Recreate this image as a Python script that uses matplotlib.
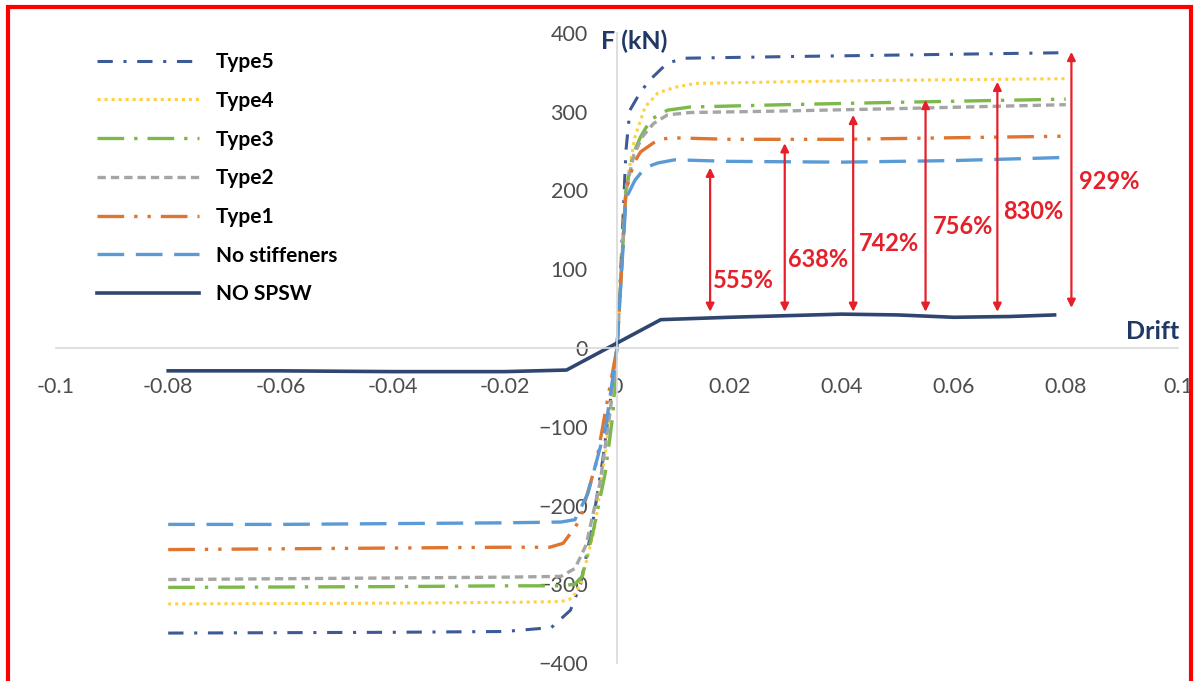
import matplotlib.pyplot as plt

plt.rcParams['font.family'] = ['Lato', 'DejaVu Sans']

# positive branch (drift, force)
t5_x = [0, 0.0008, 0.0016, 0.0023, 0.0041, 0.0058, 0.009, 0.0122, 0.03, 0.05, 0.08]
t5_y = [0, 120, 251, 302, 324, 340, 362, 368, 370, 372, 375]
t4_x = [0, 0.0015, 0.0032, 0.005, 0.0073, 0.0103, 0.014, 0.03, 0.05, 0.08]
t4_y = [0, 200, 268, 306, 324, 331, 336, 338, 340, 342]
t3_x = [0, 0.0016, 0.0028, 0.0042, 0.006, 0.009, 0.013, 0.03, 0.05, 0.08]
t3_y = [0, 200, 245, 268, 290, 302, 306, 309, 312, 316]
t2_x = [0, 0.0016, 0.003, 0.0045, 0.0065, 0.009, 0.013, 0.03, 0.05, 0.08]
t2_y = [0, 200, 245, 268, 285, 296, 299, 301, 304, 309]
t1_x = [0, 0.0016, 0.003, 0.0042, 0.0072, 0.0095, 0.02, 0.04, 0.06, 0.08]
t1_y = [0, 200, 235, 249, 264, 267, 265, 265, 267, 269]
ns_x = [0, 0.0016, 0.0032, 0.005, 0.0073, 0.0103, 0.02, 0.04, 0.06, 0.08]
ns_y = [0, 190, 213, 229, 235, 239, 237, 236, 238, 242]

# negative branch
t5_xn = [-0.08, -0.04, -0.02, -0.0117, -0.0083, -0.0065, -0.0045, -0.0025, 0]
t5_yn = [-362, -361, -360, -355, -333, -300, -230, -140, 0]
t4_xn = [-0.08, -0.04, -0.02, -0.01, -0.008, -0.0065, -0.004, -0.002, 0]
t4_yn = [-325, -324, -323, -322, -318, -300, -230, -130, 0]
t3_xn = [-0.08, -0.04, -0.02, -0.01, -0.0075, -0.0062, -0.0042, -0.0021, -0.0007, 0]
t3_yn = [-304, -303, -302, -302, -300, -290, -231, -159, -83, 0]
t2_xn = [-0.08, -0.04, -0.02, -0.01, -0.0075, -0.0055, -0.003, -0.0012, 0]
t2_yn = [-294, -292, -291, -290, -280, -250, -170, -80, 0]
t1_xn = [-0.08, -0.06, -0.04, -0.02, -0.012, -0.0096, -0.0074, -0.0065, -0.0037, -0.0016, 0]
t1_yn = [-256, -255, -254, -253, -253, -248, -227, -215, -146, -62, 0]
ns_xn = [-0.08, -0.06, -0.04, -0.02, -0.01, -0.0075, -0.0052, -0.002, 0]
ns_yn = [-224, -224, -223, -222, -221, -218, -185, -100, 0]

# NO SPSW (full loop)
sp_x = [-0.08, -0.06, -0.04, -0.02, -0.009, 0.0078, 0.02, 0.03, 0.04, 0.05, 0.06, 0.07, 0.078]
sp_y = [-29, -29, -30, -30, -28, 36, 39, 41, 43, 42, 39, 40, 42]

# increase arrows: drift, bottom, top, label
arr_x = [0.0166, 0.0299, 0.0421, 0.055, 0.0678, 0.081]
arr_lo = [46, 46, 46, 46, 46, 51]
arr_hi = [229, 260, 296, 315, 338, 376]
arr_txt = ['555%', '638%', '742%', '756%', '830%', '929%']
txt_x = [0.0226, 0.0359, 0.0485, 0.0616, 0.0742, 0.0878]
txt_y = [86, 112, 133, 154, 173, 211]

xticks = [-0.1, -0.08, -0.06, -0.04, -0.02, 0, 0.02, 0.04, 0.06, 0.08, 0.1]
xlabels = ['-0.1', '-0.08', '-0.06', '-0.04', '-0.02', '0', '0.02', '0.04', '0.06', '0.08', '0.1']
yticks = [-400, -300, -200, -100, 0, 100, 200, 300, 400]

fig = plt.figure(figsize=(11.95, 6.81), dpi=100)
ax = fig.add_axes([56 / 1195, 18 / 681, 1122 / 1195, 630 / 681])

series = [
    ('Type5', t5_x, t5_y, t5_xn, t5_yn, '#3C5A96', (0, (5, 3.5, 1, 3.5)), 2.2),
    ('Type4', t4_x, t4_y, t4_xn, t4_yn, '#FFD040', (0, (1, 1.3)), 2.2),
    ('Type3', t3_x, t3_y, t3_xn, t3_yn, '#7DB84A', (0, (8, 3, 1, 3)), 2.4),
    ('Type2', t2_x, t2_y, t2_xn, t2_yn, '#A5A5A5', (0, (2.5, 1.5)), 2.4),
    ('Type1', t1_x, t1_y, t1_xn, t1_yn, '#E07530', (0, (8, 3, 1, 3, 1, 3)), 2.4),
    ('No stiffeners', ns_x, ns_y, ns_xn, ns_yn, '#5B9BD5', (0, (8, 3.5)), 2.4),
]

for name, xp, yp, xn, yn, c, ls, lw in series:
    ax.plot(xp, yp, color=c, ls=ls, lw=lw, label=name)
    ax.plot(xn, yn, color=c, ls=ls, lw=lw)
ax.plot(sp_x, sp_y, color='#2E4670', lw=2.6, label='NO SPSW')

for x, lo, hi in zip(arr_x, arr_lo, arr_hi):
    ax.annotate('', xy=(x, hi), xytext=(x, lo),
                arrowprops=dict(arrowstyle='<|-|>', color='#E5202A', lw=1.6,
                                mutation_scale=12, shrinkA=0, shrinkB=0))
for x, y, s in zip(txt_x, txt_y, arr_txt):
    ax.text(x, y, s, color='#E5202A', fontsize=17, fontweight='bold', ha='center', va='center')

ax.set_xlim(-0.1, 0.1)
ax.set_ylim(-400, 400)
ax.spines['left'].set_position(('data', 0))
ax.spines['bottom'].set_position(('data', 0))
ax.spines['right'].set_visible(False)
ax.spines['top'].set_visible(False)
for s in ['left', 'bottom']:
    ax.spines[s].set_color('#D9D9D9')
    ax.spines[s].set_linewidth(1.2)
ax.set_xticks(xticks)
ax.set_xticklabels(xlabels)
ax.set_yticks(yticks)
ax.tick_params(length=0, pad=21, labelsize=15.5, labelcolor='#4D4D4D')

ax.text(-0.0028, 390, 'F (kN)', color='#1F3864', fontsize=18, fontweight='bold', va='center')
ax.text(0.0955, 21, 'Drift', color='#1F3864', fontsize=18, fontweight='bold', ha='center', va='center')

ax.legend(loc='upper left', bbox_to_anchor=(97 / 1195, 1 - 52 / 681), bbox_transform=fig.transFigure,
          frameon=False, handlelength=4.9, handletextpad=0.8, labelspacing=0.9, borderpad=0,
          borderaxespad=0, prop={'weight': 'bold', 'size': 15})

# red frame around the figure
fig.add_artist(plt.Rectangle((8 / 1195, -0.05), 1183 / 1195, 1 - 7 / 681 + 0.05,
                             transform=fig.transFigure, fill=False, edgecolor='#FF0000', lw=3))

fig.savefig('out.png', dpi=100)
